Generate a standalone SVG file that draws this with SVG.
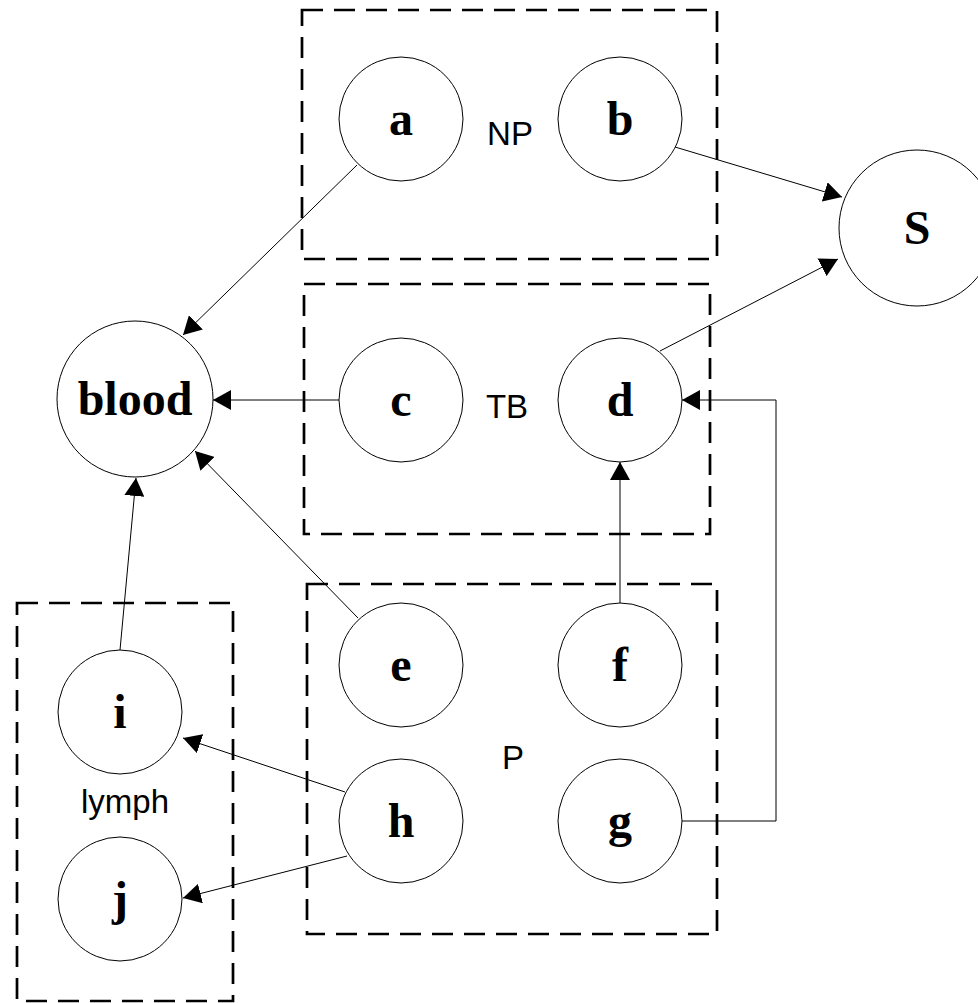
<svg xmlns="http://www.w3.org/2000/svg" width="978" height="1003" viewBox="0 0 978 1003">
<style>
.box{fill:none;stroke:#000;stroke-width:2.7;stroke-dasharray:21 11}
.node circle{fill:#fff;stroke:#000;stroke-width:1}
.node text{font-family:"Liberation Serif","Times New Roman",serif;font-weight:bold;font-size:48px;text-anchor:middle;fill:#000}
.lbl{font-family:"Liberation Sans",Arial,sans-serif;font-size:33px;text-anchor:middle;fill:#000}
.edge{fill:none;stroke:#000;stroke-width:1;marker-end:url(#arr)}
</style>
<defs>
<marker id="arr" markerUnits="userSpaceOnUse" viewBox="0 0 18 20" refX="18" refY="10" markerWidth="18" markerHeight="20" orient="auto">
<path d="M0,0 L18,10 L0,20 z" fill="#000"/>
</marker>
</defs>
<rect width="978" height="1003" fill="#fff"/>
<g id="groups">
<rect id="NP" class="box" x="302" y="10" width="415" height="249"/>
<rect id="TB" class="box" x="304" y="284" width="406" height="250"/>
<rect id="P" class="box" x="307" y="584" width="410" height="350"/>
<rect id="lymph" class="box" x="17" y="603" width="216" height="398"/>
<text class="lbl" x="510" y="145">NP</text>
<text class="lbl" x="507" y="418">TB</text>
<text class="lbl" x="513" y="769">P</text>
<text class="lbl" x="125" y="813">lymph</text>
</g>
<g id="connectors">
<line class="edge" x1="357" y1="165" x2="183" y2="335"/>
<line class="edge" x1="339" y1="400" x2="213" y2="400"/>
<line class="edge" x1="358" y1="618" x2="195" y2="451"/>
<line class="edge" x1="120" y1="650" x2="136" y2="478"/>
<line class="edge" x1="345" y1="792" x2="183" y2="738"/>
<line class="edge" x1="347" y1="856" x2="183" y2="898"/>
<line class="edge" x1="675" y1="147" x2="842" y2="197"/>
<line class="edge" x1="660" y1="351" x2="838" y2="259"/>
<line class="edge" x1="620" y1="603" x2="620" y2="462"/>
<polyline class="edge" points="682,821 776,821 776,400 682,400"/>
</g>
<g id="node-a" class="node"><circle cx="401" cy="119" r="62"/><text x="401" y="135">a</text></g>
<g id="node-b" class="node"><circle cx="620" cy="119" r="62"/><text x="620" y="135">b</text></g>
<g id="node-S" class="node"><circle cx="917" cy="228" r="78"/><text x="917" y="244">S</text></g>
<g id="node-blood" class="node"><circle cx="135" cy="399" r="78"/><text x="135" y="415">blood</text></g>
<g id="node-c" class="node"><circle cx="401" cy="400" r="62"/><text x="401" y="416">c</text></g>
<g id="node-d" class="node"><circle cx="620" cy="400" r="62"/><text x="620" y="416">d</text></g>
<g id="node-e" class="node"><circle cx="401" cy="665" r="62"/><text x="401" y="681">e</text></g>
<g id="node-f" class="node"><circle cx="620" cy="665" r="62"/><text x="620" y="681">f</text></g>
<g id="node-h" class="node"><circle cx="401" cy="821" r="62"/><text x="401" y="837">h</text></g>
<g id="node-g" class="node"><circle cx="620" cy="821" r="62"/><text x="620" y="837">g</text></g>
<g id="node-i" class="node"><circle cx="120" cy="712" r="62"/><text x="120" y="728">i</text></g>
<g id="node-j" class="node"><circle cx="120" cy="899" r="62"/><text x="120" y="915">j</text></g>
</svg>
